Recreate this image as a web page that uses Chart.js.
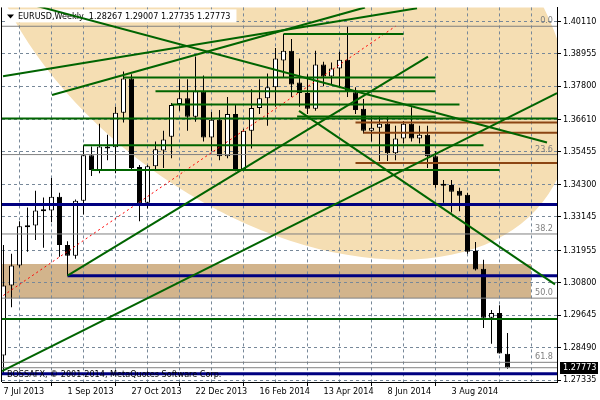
<!DOCTYPE html>
<html>
<head>
<meta charset="utf-8">
<script src="https://cdn.jsdelivr.net/npm/chart.js@4.4.1/dist/chart.umd.min.js"></script>
<style>
  html, body { margin: 0; padding: 0; background: #fff; }
  #wrap { width: 600px; height: 400px; }
</style>
</head>
<body>
<div id="wrap"><canvas id="chart" width="600" height="400"></canvas></div>
<script>
'use strict';

// ===== DATA (weekly EURUSD, week 0 = 7 Jul 2013) =====
const symbolTitle = 'EURUSD,Weekly';
const copyrightText = 'BOSSAFX, \u00a9 2001-2014, MetaQuotes Software Corp.';

const opens = [1.2821,1.3070,1.3141,1.3284,1.3284,1.3337,1.3337,1.3386,1.3214,1.3176,
  1.3372,1.3534,1.3481,1.3558,1.3562,1.3685,1.3807,1.3492,1.3365,1.3495,
  1.3551,1.3600,1.3716,1.3737,1.3671,1.3762,1.3597,1.3660,1.3530,1.3681,
  1.3481,1.3621,1.3702,1.3737,1.3776,1.3871,1.3906,1.3793,1.3755,1.3699,
  1.3857,1.3814,1.3843,1.3874,1.3758,1.3699,1.3621,1.3632,1.3646,1.3541,
  1.3593,1.3646,1.3593,1.3607,1.3530,1.3431,1.3428,1.3407,1.3393,1.3193,
  1.3130,1.2955,1.2972,1.28267];
const highs = [1.3214,1.3183,1.3299,1.3348,1.3407,1.3383,1.3453,1.3400,1.3228,1.3376,
  1.3569,1.3565,1.3646,1.3607,1.3706,1.3832,1.3822,1.3499,1.3499,1.3583,
  1.3621,1.3720,1.3804,1.3804,1.3885,1.3818,1.3688,1.3695,1.3741,1.3713,
  1.3628,1.3769,1.3804,1.3825,1.3916,1.3965,1.3948,1.3878,1.3822,1.3906,
  1.3867,1.3864,1.3902,1.3993,1.3776,1.3734,1.3671,1.3671,1.3671,1.3639,
  1.3656,1.3705,1.3639,1.3639,1.3548,1.3446,1.3446,1.3418,1.3400,1.3225,
  1.3162,1.2983,1.3000,1.29007];
const lows = [1.2755,1.2993,1.3134,1.3190,1.3232,1.3204,1.3295,1.3172,1.3105,1.3165,
  1.3323,1.3460,1.3470,1.3516,1.3470,1.3650,1.3481,1.3299,1.3344,1.3481,
  1.3488,1.3523,1.3692,1.3621,1.3653,1.3583,1.3548,1.3516,1.3523,1.3477,
  1.3477,1.3558,1.3681,1.3639,1.3706,1.3811,1.3741,1.3706,1.3681,1.3692,
  1.3779,1.3786,1.3776,1.3741,1.3681,1.3611,1.3583,1.3513,1.3513,1.3516,
  1.3576,1.3583,1.3576,1.3488,1.3418,1.3365,1.3330,1.3334,1.3183,1.3123,
  1.2919,1.2863,1.2828,1.27735];
const closes = [1.3070,1.3141,1.3281,1.3277,1.3337,1.3334,1.3386,1.3214,1.3176,1.3372,
  1.3534,1.3481,1.3565,1.3565,1.3685,1.3807,1.3488,1.3362,1.3495,1.3555,
  1.3590,1.3713,1.3737,1.3671,1.3762,1.3597,1.3660,1.3530,1.3681,1.3481,
  1.3621,1.3702,1.3737,1.3776,1.3878,1.3906,1.3786,1.3755,1.3699,1.3857,
  1.3814,1.3843,1.3874,1.3762,1.3695,1.3621,1.3632,1.3646,1.3541,1.3593,
  1.3646,1.3593,1.3607,1.3530,1.3428,1.3425,1.3404,1.3390,1.3190,1.3127,
  1.2955,1.2972,1.2828,1.27773];

const priceTicks = [1.27335,1.28490,1.29645,1.30800,1.31955,1.33145,1.34300,1.35455,1.36610,1.37800,1.38955,1.40110];
const dateLabels = ['7 Jul 2013','1 Sep 2013','27 Oct 2013','22 Dec 2013','16 Feb 2014','13 Apr 2014','8 Jun 2014','3 Aug 2014'];
const dateLabelWeeks = [0, 8, 16, 24, 32, 40, 48, 56];
const gridWeeks = [0,4,8,12,16,20,24,28,32,36,40,44,48,52,56,60,64,68];

// Fibonacci retracement: anchors [week, price]
const fibStart = [-50, 1.2057];
const fibEnd = [49, 1.3993];
const fibLevels = [0, 23.6, 38.2, 50, 61.8];

// trend lines [week1, price1, week2, price2]
const greenLines = [
  [35, 1.3965, 50, 1.3965],
  [15, 1.3811, 54, 1.3811],
  [19, 1.3762, 54, 1.3762],
  [21, 1.3714, 57, 1.3714],
  [36.7, 1.3672, 54, 1.3672],
  [-2, 1.3665, 72, 1.3665],
  [10, 1.3569, 60, 1.3569],
  [11, 1.3481, 62, 1.3481],
  [-2, 1.2951, 72, 1.2951],
  [3.94, 1.4067, 67.94, 1.3579],
  [-0.06, 1.3815, 51.69, 1.4057],
  [6.06, 1.3748, 45.19, 1.4060],
  [36.94, 1.3692, 68.94, 1.3074],
  [-0.19, 1.2765, 69.19, 1.3755],
  [8, 1.3105, 53.06, 1.3885]
];
const brownLines = [
  [44, 1.3650, 72, 1.3650],
  [45, 1.3614, 72, 1.3614],
  [44, 1.3506, 72, 1.3506]
];
const blueLines = [
  [-2, 1.3358, 72, 1.3358],
  [8, 1.3105, 72, 1.3105],
  [-2, 1.2756, 72, 1.2756]
];

// filled shapes: ellipse by its top/bottom points + half width (weeks), band rectangle
const ellipseTop = [18.05, 1.49726];
const ellipseBottom = [49.75, 1.31617];
const ellipseHalfWeeks = 33.5;
const bandWeeks = [-5, 65.9];
const bandPrices = [1.30248, 1.31477];

// ===== STYLE =====
const FONT = "'DejaVu Sans Condensed', 'Liberation Sans', sans-serif";
const FONT_PX = 9;
const GREEN = '#006400';
const BROWN = '#8B4513';
const NAVY = '#000080';
const GRAY = '#808080';
const GRID = '#778899';

Chart.defaults.font.family = FONT;
Chart.defaults.font.size = FONT_PX;
Chart.defaults.color = '#000';

function segment(seg, color, width, extra) {
  return Object.assign({
    type: 'line',
    data: [{ x: seg[0], y: seg[1] }, { x: seg[2], y: seg[3] }],
    borderColor: color,
    borderWidth: width,
    pointRadius: 0,
    tension: 0,
    clip: 0,
    order: 0
  }, extra || {});
}

const weeks = opens.map((_, i) => i);
const lastIdx = closes.length - 1;
const fibPrice = lvl => fibEnd[1] - (fibEnd[1] - fibStart[1]) * lvl / 100;

const datasets = [];
greenLines.forEach(s => datasets.push(segment(s, GREEN, 2)));
brownLines.forEach(s => datasets.push(segment(s, BROWN, 2)));
blueLines.forEach(s => datasets.push(segment(s, NAVY, 3)));
datasets.push(segment([fibStart[0], fibStart[1], fibEnd[0], fibEnd[1]], '#ff0000', 1, { borderDash: [2, 3] }));
fibLevels.forEach(l => datasets.push(segment([-2, fibPrice(l), 72, fibPrice(l)], GRAY, 1, { order: 1 })));
datasets.push(segment([-2, closes[lastIdx], 72, closes[lastIdx]], GRAY, 1, { order: 1 }));

// candles: wick + body as floating bars
datasets.push({
  type: 'bar',
  data: weeks.map(i => ({ x: i, y: [lows[i], highs[i]] })),
  backgroundColor: '#000',
  barThickness: 1,
  grouped: false,
  inflateAmount: 0,
  order: 6
});
datasets.push({
  type: 'bar',
  data: weeks.map(i => ({ x: i, y: [opens[i], closes[i]] })),
  backgroundColor: weeks.map(i => closes[i] >= opens[i] ? '#fff' : '#000'),
  borderColor: '#000',
  borderWidth: 1,
  borderSkipped: false,
  barThickness: 5,
  minBarLength: 2,
  grouped: false,
  inflateAmount: 0,
  order: 5
});

// ===== DRAWING HELPERS =====
const mtPlugin = {
  id: 'mtPlugin',
  beforeDraw(chart) {
    const { ctx, chartArea: a, scales: { x, y } } = chart;
    ctx.save();
    ctx.fillStyle = '#fff';
    ctx.fillRect(0, 0, chart.width, chart.height);
    ctx.beginPath();
    ctx.rect(a.left, a.top, a.right - a.left, a.bottom - a.top);
    ctx.clip();

    // ellipse (sheared)
    const tx = x.getPixelForValue(ellipseTop[0]), ty = y.getPixelForValue(ellipseTop[1]);
    const bx = x.getPixelForValue(ellipseBottom[0]), by = y.getPixelForValue(ellipseBottom[1]);
    const h = (by - ty) / 2;
    const sh = (bx - tx) / (by - ty);
    const w = x.getPixelForValue(ellipseHalfWeeks) - x.getPixelForValue(0);
    ctx.save();
    ctx.translate((tx + bx) / 2, (ty + by) / 2);
    ctx.transform(1, 0, sh, 1, 0, 0);
    ctx.beginPath();
    ctx.ellipse(0, 0, w, h, 0, 0, Math.PI * 2);
    ctx.fillStyle = '#F5DEB3';
    ctx.fill();
    ctx.restore();

    // band
    const x0 = x.getPixelForValue(bandWeeks[0]), x1 = x.getPixelForValue(bandWeeks[1]);
    const y0 = Math.round(y.getPixelForValue(bandPrices[1])), y1 = Math.round(y.getPixelForValue(bandPrices[0]));
    ctx.fillStyle = '#D2B48C';
    ctx.fillRect(x0, y0, Math.round(x1) - x0, y1 - y0);
    ctx.restore();
  },
  beforeDatasetsDraw(chart) {
    const { ctx, chartArea: a } = chart;
    // left frame line
    ctx.save();
    ctx.strokeStyle = '#000';
    ctx.lineWidth = 1;
    ctx.beginPath();
    ctx.moveTo(a.left - 0.5, a.top);
    ctx.lineTo(a.left - 0.5, a.bottom);
    ctx.stroke();

    // title box
    const title = symbolTitle + '  ' + [opens, highs, lows, closes].map(s => s[lastIdx].toFixed(5)).join(' ');
    ctx.font = FONT_PX + 'px ' + FONT;
    const tw = ctx.measureText(title).width;
    ctx.fillStyle = '#fff';
    ctx.fillRect(a.left + 3, a.top + 2, tw + 19, 13);
    ctx.fillStyle = '#000';
    ctx.beginPath();
    ctx.moveTo(a.left + 5, a.top + 7);
    ctx.lineTo(a.left + 12, a.top + 7);
    ctx.lineTo(a.left + 8.5, a.top + 11);
    ctx.closePath();
    ctx.fill();
    ctx.textBaseline = 'middle';
    ctx.textAlign = 'left';
    ctx.fillText(title, a.left + 16, a.top + 9);
    ctx.restore();
  },
  afterDatasetsDraw(chart) {
    const { ctx, chartArea: a, scales: { y } } = chart;
    ctx.save();
    ctx.font = FONT_PX + 'px ' + FONT;
    ctx.fillStyle = GRAY;
    ctx.textAlign = 'right';
    ctx.textBaseline = 'bottom';
    fibLevels.forEach(l => {
      ctx.fillText(l.toFixed(1), a.right - 4, Math.round(y.getPixelForValue(fibPrice(l))) - 1);
    });
    ctx.fillStyle = '#000';
    ctx.textAlign = 'left';
    ctx.textBaseline = 'middle';
    ctx.fillText(copyrightText, a.left + 5, a.bottom - 7);
    ctx.restore();
  },
  afterDraw(chart) {
    const { ctx, chartArea: a, scales: { y } } = chart;
    const py = Math.round(y.getPixelForValue(closes[lastIdx]));
    ctx.save();
    ctx.fillStyle = '#000';
    ctx.fillRect(a.right + 3, py - 6, 38, 12);
    ctx.fillStyle = '#fff';
    ctx.font = FONT_PX + 'px ' + FONT;
    ctx.textAlign = 'left';
    ctx.textBaseline = 'middle';
    ctx.fillText(closes[lastIdx].toFixed(5), a.right + 6, py);
    ctx.restore();
  }
};

// ===== CHART =====
new Chart(document.getElementById('chart'), {
  type: 'bar',
  data: { datasets },
  plugins: [mtPlugin],
  options: {
    responsive: false,
    animation: false,
    devicePixelRatio: 1,
    layout: { padding: { left: 2, top: 2, right: 0, bottom: 0 } },
    plugins: { legend: { display: false }, tooltip: { enabled: false } },
    scales: {
      x: {
        type: 'linear',
        min: -0.1875,
        max: 69.1875,
        offset: false,
        afterBuildTicks: s => { s.ticks = gridWeeks.map(v => ({ value: v })); },
        afterFit: s => { s.height = 18; },
        grid: {
          color: GRID,
          lineWidth: 1,
          tickLength: 4,
          tickColor: c => (c.tick && dateLabelWeeks.includes(c.tick.value)) ? '#000' : 'rgba(0,0,0,0)'
        },
        border: { display: true, color: '#000', dash: [3, 3] },
        ticks: {
          autoSkip: false,
          maxRotation: 0,
          align: 'start',
          padding: 0,
          color: '#000',
          callback: v => {
            const k = dateLabelWeeks.indexOf(v);
            return k >= 0 ? dateLabels[k] : '';
          }
        }
      },
      y: {
        type: 'linear',
        position: 'right',
        min: 1.2726481,
        max: 1.4060135,
        afterBuildTicks: s => { s.ticks = priceTicks.map(v => ({ value: v })); },
        afterFit: s => { s.width = 43; },
        grid: { color: GRID, lineWidth: 1, tickLength: 4, tickColor: '#000' },
        border: { display: true, color: '#000', dash: [3, 3] },
        ticks: {
          padding: 2,
          color: '#000',
          callback: v => v.toFixed(5)
        }
      }
    }
  }
});
</script>
</body>
</html>
